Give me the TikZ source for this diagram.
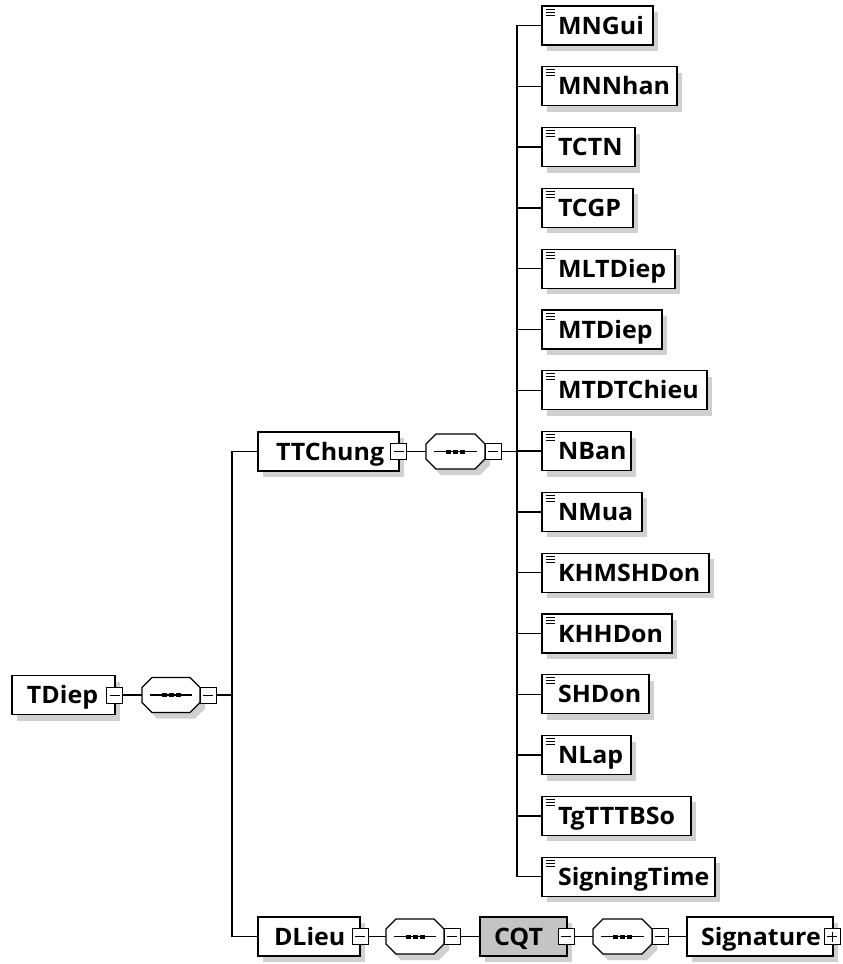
\documentclass[tikz,border=0pt]{standalone}
\usepackage{fontspec}
\setmainfont[FakeStretch=1.04]{Open Sans}
\usetikzlibrary{shadows,calc}
\definecolor{shadowgray}{RGB}{208,208,208}
\definecolor{cqtgray}{RGB}{196,196,196}
\tikzset{
  myshadow/.style={drop shadow={shadow xshift=5pt,shadow yshift=-6pt,opacity=1,fill=shadowgray,draw=none}},
  elem/.style={rectangle,draw=black,line width=1.3pt,fill=white,inner sep=0pt,outer sep=0pt,myshadow},
  cqtbox/.style={elem,fill=cqtgray},
  seq/.style={rectangle,draw=none,inner sep=0pt,outer sep=0pt},
  octline/.style={draw=black,line width=1.3pt,fill=white,line join=miter},
  tog/.style={rectangle,draw=black,line width=1pt,fill=white,inner sep=0pt,outer sep=0pt,minimum width=16,minimum height=16},
  conn/.style={draw=black,line width=1.4pt},
  icon/.style={draw=black,line width=1pt},
  lbl/.style={anchor=base west,inner sep=0pt,outer sep=0pt,font=\fontsize{24}{24}\selectfont\bfseries}
}
\newcommand\mkbox[6]{%
  \node[#2,minimum width={#5-#3},minimum height={#6-#4}] (#1) at ({(#3+#5)/2},{(#4+#6)/2}) {};}
\newcommand\mkminus[1]{\draw[line width=1pt] ($(#1.west)+(3,0)$) -- ($(#1.east)+(-3,0)$);}
\newcommand\octpath[3]{%
  ($(#1.north west)+(10+#2,#3)$) -- ($(#1.north east)+(-10+#2,#3)$) --
  ($(#1.north east)+(#2,10+#3)$) -- ($(#1.south east)+(#2,-10+#3)$) --
  ($(#1.south east)+(-10+#2,#3)$) -- ($(#1.south west)+(10+#2,#3)$) --
  ($(#1.south west)+(#2,-10+#3)$) -- ($(#1.north west)+(#2,10+#3)$) -- cycle}
\newcommand\mkoct[1]{%
  \fill[shadowgray] \octpath{#1}{5}{6};
  \draw[octline] \octpath{#1}{0}{0};
  \draw[line width=1.2pt] ($(#1.west)+(8,0)$) -- ($(#1.east)+(-8,0)$);
  \foreach \dx in {-7,0,7}{\fill ($(#1.center)+(\dx,0)+(-2.5,-2)$) rectangle ++(5,4);}}
\begin{document}
\begin{tikzpicture}[x=1pt,y=-1pt]
\useasboundingbox (0,0) rectangle (843,964);
% ---- root row ----
\mkbox{TDiep}{elem}{12}{675.5}{115}{714.5}
\node[lbl] (tTDiep) at (27,703.5) {TDiep};
\node[tog] (mTDiep) at (114.5,695) {};
\mkminus{mTDiep}
\node[seq,minimum width=58,minimum height=35] (s1) at (171,695) {};
\mkoct{s1}
\node[tog] (ms1) at (208,695) {};
\mkminus{ms1}
\draw[conn] (mTDiep.east) -- (s1.west);
\coordinate (j1) at (232,695);
\draw[conn] (ms1.east) -- (j1);
% ---- TTChung row ----
\mkbox{TTChung}{elem}{258}{432}{399}{471}
\node[lbl] (tTTChung) at (276,460) {TTChung};
\node[tog] (mTTChung) at (398.5,451.5) {};
\mkminus{mTTChung}
\node[seq,minimum width=59,minimum height=35] (s2) at (455.5,451.5) {};
\mkoct{s2}
\node[tog] (ms2) at (493,451.5) {};
\mkminus{ms2}
\draw[conn] (mTTChung.east) -- (s2.west);
\coordinate (j2) at (517,451.5);
\draw[conn] (ms2.east) -- (j2);
% ---- DLieu row ----
\mkbox{DLieu}{elem}{258}{917}{360}{956}
\node[lbl] (tDLieu) at (274,945) {DLieu};
\node[tog] (mDLieu) at (360,936.5) {};
\mkminus{mDLieu}
\node[seq,minimum width=58,minimum height=35] (s3) at (415,936.5) {};
\mkoct{s3}
\node[tog] (ms3) at (452,936.5) {};
\mkminus{ms3}
\mkbox{CQT}{cqtbox}{480}{917}{567}{956}
\node[lbl] (tCQT) at (494,945) {CQT};
\node[tog] (mCQT) at (566,936.5) {};
\mkminus{mCQT}
\node[seq,minimum width=59,minimum height=35] (s4) at (622.5,936.5) {};
\mkoct{s4}
\node[tog] (ms4) at (660,936.5) {};
\mkminus{ms4}
\mkbox{Signature}{elem}{687}{917}{833}{956}
\node[lbl] (tSignature) at (701,945) {Signature};
\node[tog] (pSignature) at (832,936.5) {};
\draw[line width=1pt] ($(pSignature.west)+(3,0)$) -- ($(pSignature.east)+(-3,0)$);
\draw[line width=1pt] ($(pSignature.north)+(0,3)$) -- ($(pSignature.south)+(0,-3)$);
\draw[conn] (mDLieu.east) -- (s3.west);
\draw[conn] (ms3.east) -- (CQT.west);
\draw[conn] (mCQT.east) -- (s4.west);
\draw[conn] (ms4.east) -- (Signature.west);
% ---- trunk ----
\draw[conn] (TTChung.west) -| (j1) |- (DLieu.west);
% ---- leaves ----
\foreach \n/\i/\r in {MNGui/0/653,MNNhan/1/677,TCTN/2/635,TCGP/3/633,MLTDiep/4/675,MTDiep/5/662,MTDTChieu/6/707,NBan/7/631,NMua/8/642,KHMSHDon/9/709,KHHDon/10/672,SHDon/11/649,NLap/12/631,TgTTTBSo/13/691,SigningTime/14/715}{
  \pgfmathsetmacro\cy{25.5+60.8*\i}
  \pgfmathsetmacro\cx{(542+\r)/2}
  \pgfmathsetmacro\w{\r-542}
  \node[elem,minimum width=\w,minimum height=39] (\n) at (\cx,\cy) {};
  \foreach \k in {3,6,9}{\draw[icon] ($(\n.north west)+(4,\k)$) -- ++(9,0);}
  \node[lbl] (t\n) at (558,\cy+8.5) {\n};
  \draw[conn] (\n.west) -| (j2);
}
\end{tikzpicture}
\end{document}
